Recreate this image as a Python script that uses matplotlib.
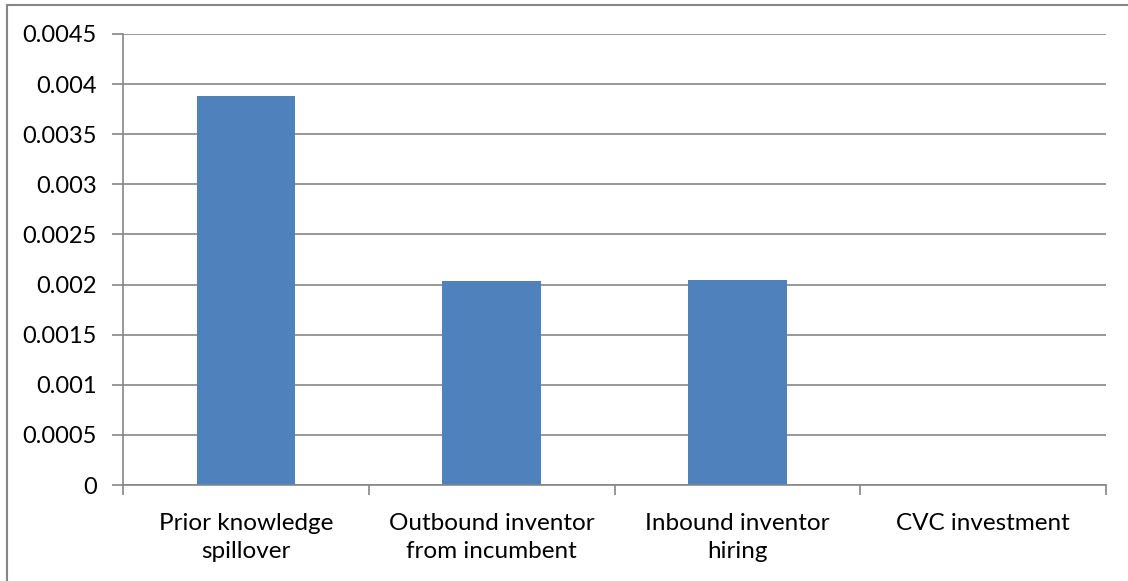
import matplotlib
matplotlib.use("Agg")
import matplotlib.pyplot as plt
from matplotlib.patches import Rectangle
import numpy as np

categories = ["Prior knowledge\nspillover", "Outbound inventor\nfrom incumbent",
              "Inbound inventor\nhiring", "CVC investment"]
values = [0.003877, 0.00204, 0.00205, 0.0]
yticks = [0, 0.0005, 0.001, 0.0015, 0.002, 0.0025, 0.003, 0.0035, 0.004, 0.0045]
ytick_labels = ["0", "0.0005", "0.001", "0.0015", "0.002", "0.0025", "0.003",
                "0.0035", "0.004", "0.0045"]

plt.rcParams['font.family'] = ['Lato', 'DejaVu Sans']
grid_color = "#868686"
bar_color = "#4F81BD"

fig = plt.figure(figsize=(11.28, 5.81), dpi=100)
ax = fig.add_axes([123/1128, (581-485)/581, (1106-123)/1128, (485-34)/581])

x = np.arange(len(categories))
ax.bar(x, values, width=0.4, color=bar_color, zorder=3)
ax.set_xlim(-0.5, len(categories) - 0.5)
ax.set_ylim(0, 0.0045)
ax.set_yticks(yticks)
ax.set_yticklabels(ytick_labels, fontsize=17)
ax.yaxis.grid(True, color=grid_color, linewidth=1.2, zorder=0)
ax.set_xticks(x)
ax.set_xticklabels(categories, fontsize=17.5, linespacing=1.45)
ax.tick_params(axis='x', length=0, pad=20)
ax.set_xticks(np.arange(-0.5, len(categories), 1.0), minor=True)
ax.tick_params(axis='x', which='minor', length=7, color=grid_color, width=1.2)
ax.tick_params(axis='y', length=8, color=grid_color, width=1.2, pad=11)
for s in ['top', 'right']:
    ax.spines[s].set_visible(False)
for s in ['left', 'bottom']:
    ax.spines[s].set_color(grid_color)
    ax.spines[s].set_linewidth(1.2)
ax.spines['bottom'].set_zorder(4)

fig.patches.append(Rectangle((7/1128, -10/581), (1140-7)/1128, (576+10)/581,
                             transform=fig.transFigure, fill=False,
                             edgecolor=grid_color, linewidth=1.5))
fig.savefig("out.png", dpi=100)
